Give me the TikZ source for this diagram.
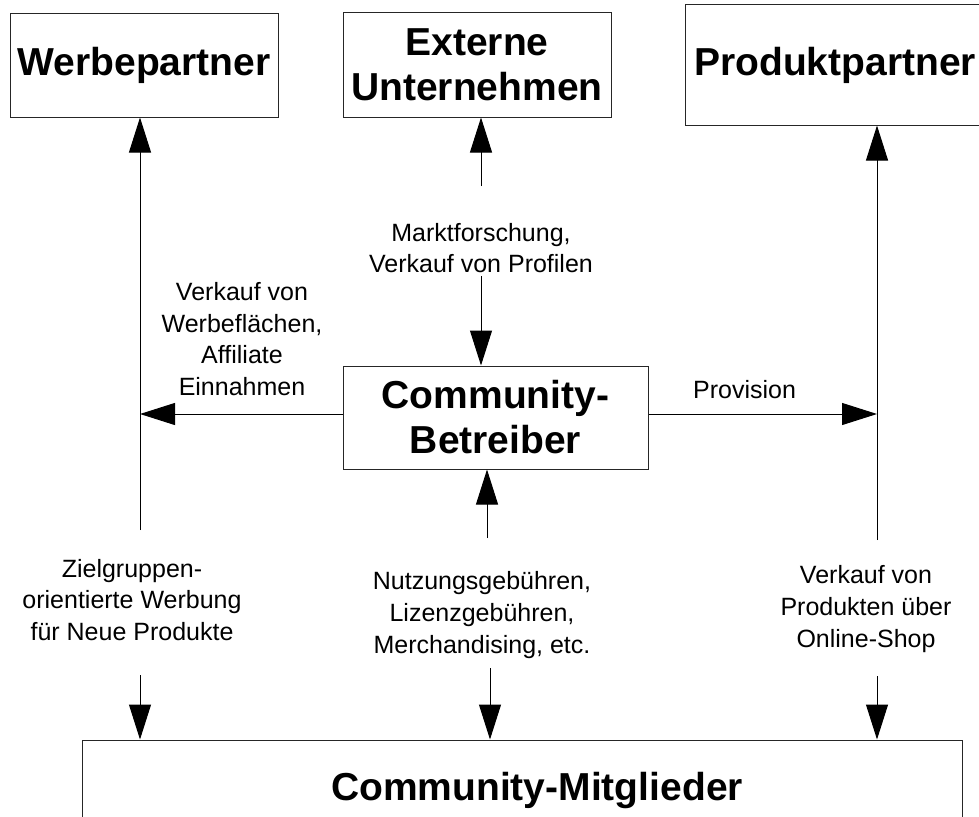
\documentclass[tikz,border=0pt]{standalone}
\usepackage{fontspec}
\setmainfont{Liberation Sans}
\usetikzlibrary{arrows.meta}
\begin{document}
\begin{tikzpicture}[x=1pt,y=-1pt,
  box/.style={draw=black!85,line width=1pt,fill=white,inner sep=0pt,align=center,
    font=\fontsize{39}{45}\selectfont\bfseries},
  title/.style={inner sep=0pt,align=center,font=\fontsize{39}{45}\selectfont\bfseries},
  lbl/.style={align=center,inner sep=0pt,font=\fontsize{25}{31.7}\selectfont},
  arr/.style={line width=1pt,-{Triangle[length=35pt,width=22pt]}}]
\useasboundingbox (0,0) rectangle (979,816);
\clip (0,0) rectangle (979,816);

% boxes
\node[box,minimum width=268pt,minimum height=103pt] (wp) at (144,65.5) {Werbepartner};
\node[box,minimum width=268pt,minimum height=104pt] (ext) at (477,65) {Externe\\Unternehmen};
\node[box,minimum width=300pt,minimum height=120pt] (pp) at (835,65) {Produktpartner};
\node[box,minimum width=305pt,minimum height=103pt] (bt) at (495.5,417.5) {Community-\\Betreiber};
\node[box,minimum width=880pt,minimum height=110pt] (mit) at (522,795) {};
\node[title] (mitt) at (537,790) {Community-Mitglieder};

% labels
\node[lbl] (mf) at (481,248) {Marktforschung,\\Verkauf von Profilen};
\node[lbl] (vw) at (242,339) {Verkauf von\\Werbeflächen,\\Affiliate\\Einnahmen};
\node[lbl] (prov) at (744.5,390) {Provision};
\node[lbl] (zg) at (132,600) {Zielgruppen-\\orientierte Werbung\\für Neue Produkte};
\node[lbl] (nutz) at (482,615) {Nutzungsgebühren,\\Lizenzgebühren,\\Merchandising, etc.};
\node[lbl] (vk) at (866,609) {Verkauf von\\Produkten über\\Online-Shop};

% connector anchors
\coordinate (la) at (140,530);
\coordinate (lb) at (140,675);
\coordinate (ma) at (481,186);
\coordinate (mb) at (481,276);
\coordinate (na) at (487,538);
\coordinate (nb) at (490,668);
\coordinate (ra) at (877,540);
\coordinate (rb) at (877,676);
\coordinate (hy) at (0,414);

% connectors
\draw[arr] (la) -- (la |- wp.south);
\draw[arr] (lb) -- (lb |- mit.north);
\draw[arr] (bt.west |- hy) -- (la |- hy);
\draw[arr] (ma) -- (ma |- ext.south);
\draw[arr] (mb) -- (mb |- bt.north);
\draw[arr] (na) -- (na |- bt.south);
\draw[arr] (nb) -- (nb |- mit.north);
\draw[arr] (bt.east |- hy) -- (ra |- hy);
\draw[arr] (ra) -- (ra |- pp.south);
\draw[arr] (rb) -- (rb |- mit.north);
\end{tikzpicture}
\end{document}
